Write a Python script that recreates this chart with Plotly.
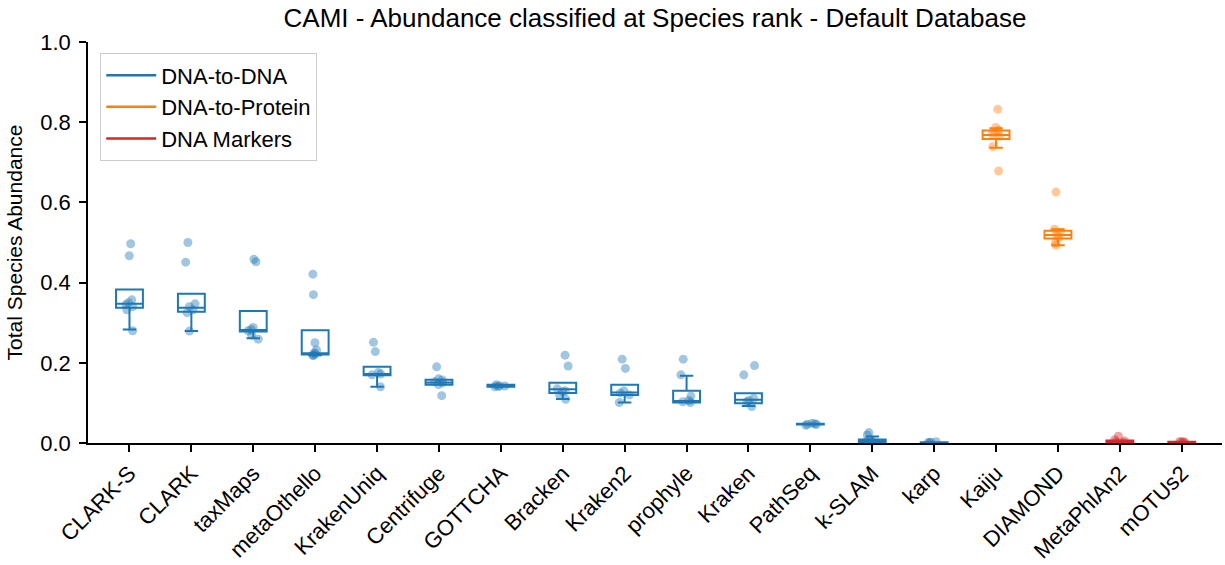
import plotly.graph_objects as go

# ---------------- data ----------------
categories = ["CLARK-S", "CLARK", "taxMaps", "metaOthello", "KrakenUniq", "Centrifuge",
              "GOTTCHA", "Bracken", "Kraken2", "prophyle", "Kraken", "PathSeq", "k-SLAM",
              "karp", "Kaiju", "DIAMOND", "MetaPhlAn2", "mOTUs2"]
groups = ["DNA-to-DNA"] * 14 + ["DNA-to-Protein"] * 2 + ["DNA Markers"] * 2

q1 =         [0.337, 0.327, 0.278, 0.221, 0.169, 0.145, 0.140, 0.125, 0.120, 0.101, 0.099, 0.046, 0.000, 0.000, 0.758, 0.510, 0.000, 0.000]
median =     [0.347, 0.337, 0.282, 0.224, 0.172, 0.151, 0.142, 0.134, 0.126, 0.105, 0.108, 0.047, 0.004, 0.001, 0.768, 0.519, 0.003, 0.001]
q3 =         [0.383, 0.372, 0.329, 0.281, 0.190, 0.158, 0.145, 0.150, 0.145, 0.130, 0.124, 0.048, 0.009, 0.002, 0.779, 0.529, 0.006, 0.003]
lowerfence = [0.283, 0.279, 0.261, 0.219, 0.140, 0.145, 0.140, 0.110, 0.101, 0.101, 0.092, 0.046, 0.000, 0.000, 0.736, 0.493, 0.000, 0.000]
upperfence = [0.383, 0.372, 0.329, 0.281, 0.190, 0.158, 0.145, 0.150, 0.145, 0.168, 0.124, 0.048, 0.016, 0.002, 0.785, 0.533, 0.006, 0.003]

samples = {
    "CLARK-S":     [0.497, 0.467, 0.357, 0.350, 0.345, 0.340, 0.332, 0.280],
    "CLARK":       [0.500, 0.451, 0.347, 0.340, 0.332, 0.325, 0.279],
    "taxMaps":     [0.458, 0.452, 0.288, 0.283, 0.280, 0.269, 0.259],
    "metaOthello": [0.421, 0.370, 0.250, 0.232, 0.225, 0.222, 0.219, 0.218],
    "KrakenUniq":  [0.251, 0.228, 0.176, 0.172, 0.170, 0.140],
    "Centrifuge":  [0.190, 0.160, 0.157, 0.153, 0.150, 0.146, 0.118],
    "GOTTCHA":     [0.145, 0.143, 0.142, 0.141, 0.140],
    "Bracken":     [0.219, 0.192, 0.135, 0.130, 0.128, 0.120, 0.109],
    "Kraken2":     [0.209, 0.186, 0.130, 0.125, 0.120, 0.101],
    "prophyle":    [0.209, 0.170, 0.117, 0.106, 0.103, 0.101],
    "Kraken":      [0.193, 0.170, 0.111, 0.106, 0.103, 0.091],
    "PathSeq":     [0.049, 0.048, 0.047, 0.046, 0.044],
    "k-SLAM":      [0.026, 0.020, 0.009, 0.004, 0.001],
    "karp":        [0.003, 0.002, 0.001, 0.001],
    "Kaiju":       [0.832, 0.787, 0.780, 0.775, 0.770, 0.765, 0.739, 0.678],
    "DIAMOND":     [0.626, 0.533, 0.525, 0.518, 0.512, 0.498, 0.493],
    "MetaPhlAn2":  [0.017, 0.008, 0.005, 0.003, 0.001],
    "mOTUs2":      [0.004, 0.003, 0.002, 0.001],
}

group_names = ["DNA-to-DNA", "DNA-to-Protein", "DNA Markers"]
group_colors = {"DNA-to-DNA": "#1f77b4", "DNA-to-Protein": "#ff7f0e", "DNA Markers": "#d62728"}

title_text = "CAMI - Abundance classified at Species rank - Default Database"
y_title = "Total Species Abundance"
y_ticks = [0.0, 0.2, 0.4, 0.6, 0.8, 1.0]

FONT = "Liberation Sans, Arial, Helvetica, sans-serif"

fig = go.Figure()

# boxes (precomputed statistics)
for g in group_names:
    idx = [i for i, gg in enumerate(groups) if gg == g]
    fig.add_trace(go.Box(
        x=[categories[i] for i in idx],
        q1=[q1[i] for i in idx],
        median=[median[i] for i in idx],
        q3=[q3[i] for i in idx],
        lowerfence=[lowerfence[i] for i in idx],
        upperfence=[upperfence[i] for i in idx],
        line=dict(color=group_colors[g], width=2),
        fillcolor="rgba(255,255,255,0)",
        whiskerwidth=0.5,
        boxpoints=False,
        showlegend=False,
        hoverinfo="skip",
    ))

# jittered sample points
for g in group_names:
    xs, ys = [], []
    for c, gg in zip(categories, groups):
        if gg == g:
            xs += [c] * len(samples[c])
            ys += samples[c]
    fig.add_trace(go.Box(
        x=xs, y=ys,
        boxpoints="all", jitter=0.45, pointpos=0,
        line=dict(width=0, color="rgba(0,0,0,0)"),
        fillcolor="rgba(0,0,0,0)",
        marker=dict(color=group_colors[g], opacity=0.42, size=9),
        showlegend=False,
        hoverinfo="y",
    ))

# legend entries as lines
for g in group_names:
    fig.add_trace(go.Scatter(
        x=[None], y=[None], mode="lines", name=g,
        line=dict(color=group_colors[g], width=2.5),
    ))

fig.update_layout(
    width=1225, height=565,
    margin=dict(l=88, r=3, t=42, b=122),
    paper_bgcolor="white", plot_bgcolor="white",
    boxmode="overlay", boxgap=0.38,
    font=dict(family=FONT, size=21, color="black"),
    title=dict(text=title_text, x=0.5, xref="paper", xanchor="center",
               y=1 - 18 / 565, yref="container", yanchor="middle",
               font=dict(size=26, color="black")),
    legend=dict(x=0.0106, y=0.972, xanchor="left", yanchor="top",
                bgcolor="white", bordercolor="#cccccc", borderwidth=1.2,
                font=dict(size=22), itemwidth=50),
    showlegend=True,
)

fig.update_xaxes(
    type="category", categoryorder="array", categoryarray=categories,
    range=[-0.67, 17.65],
    showline=True, linecolor="black", linewidth=1.6,
    ticks="outside", ticklen=7, tickwidth=1.5, tickcolor="black",
    tickangle=-45, tickfont=dict(size=22),
    showgrid=False, zeroline=False,
)
fig.update_yaxes(
    range=[0, 1], tickvals=y_ticks, ticktext=[f"{v:.1f}" for v in y_ticks],
    showline=True, linecolor="black", linewidth=1.6,
    ticks="outside", ticklen=7, tickwidth=1.5, tickcolor="black",
    tickfont=dict(size=22), ticklabelstandoff=4,
    title=dict(text=y_title, font=dict(size=21), standoff=12),
    showgrid=False, zeroline=False,
)

fig.write_html("out.html")
